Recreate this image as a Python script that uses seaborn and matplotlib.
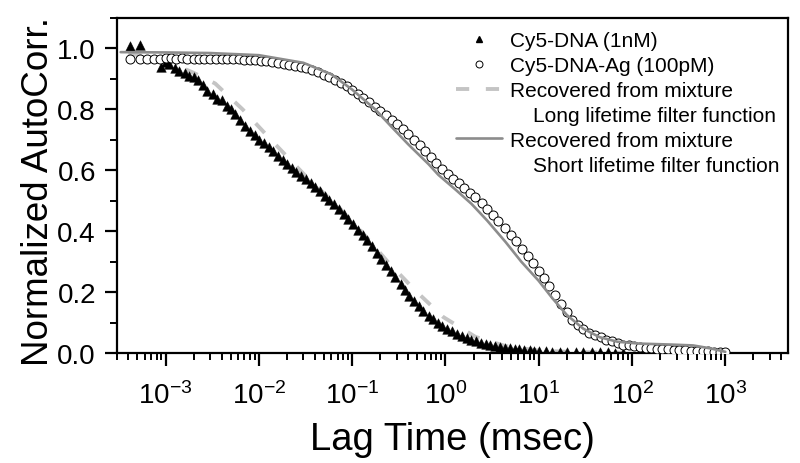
import seaborn as sns
import matplotlib.pyplot as plt
import matplotlib.ticker as mticker
from matplotlib.lines import Line2D
import numpy as np
import pandas as pd

# Cy5-DNA (1nM), triangles
dna_t = [4.2e-4, 5.3e-4, 8.9e-4, 1.0e-3, 1.1e-3, 1.25e-3, 1.4e-3, 1.6e-3, 1.8e-3, 2.0e-3,
         2.25e-3, 2.5e-3, 2.8e-3, 3.2e-3, 3.6e-3, 4.0e-3, 4.5e-3, 5.0e-3, 5.6e-3, 6.3e-3,
         7.1e-3, 8.0e-3, 9.0e-3, 1.0e-2, 1.13e-2, 1.27e-2, 1.43e-2, 1.6e-2, 1.8e-2, 2.0e-2,
         2.25e-2, 2.5e-2, 2.85e-2, 3.2e-2, 3.6e-2, 4.0e-2, 4.5e-2, 5.1e-2, 5.7e-2, 6.4e-2,
         7.2e-2, 8.1e-2, 9.1e-2, 0.102, 0.115, 0.13, 0.145, 0.163, 0.183, 0.205,
         0.23, 0.26, 0.29, 0.33, 0.37, 0.41, 0.46, 0.52, 0.58, 0.66,
         0.74, 0.83, 0.93, 1.05, 1.18, 1.33, 1.5, 1.7, 1.9, 2.15,
         2.4, 2.7, 3.0, 3.4, 3.8, 4.3, 4.9, 5.5, 6.2, 7.0,
         8.0, 9.0, 10, 12, 14, 17, 20, 25, 30, 37, 45, 55, 65, 80]
dna_g = [1.007, 1.013, 0.94, 0.955, 0.95, 0.935, 0.925, 0.92, 0.91, 0.905,
         0.895, 0.88, 0.86, 0.85, 0.835, 0.83, 0.81, 0.80, 0.785, 0.765,
         0.745, 0.73, 0.715, 0.70, 0.688, 0.675, 0.662, 0.648, 0.634, 0.62,
         0.607, 0.595, 0.582, 0.57, 0.557, 0.545, 0.531, 0.517, 0.503, 0.488,
         0.473, 0.457, 0.441, 0.424, 0.405, 0.387, 0.37, 0.35, 0.33, 0.31,
         0.29, 0.27, 0.25, 0.228, 0.207, 0.187, 0.17, 0.153, 0.138, 0.123,
         0.112, 0.10, 0.09, 0.08, 0.071, 0.063, 0.056, 0.05, 0.044, 0.039,
         0.034, 0.030, 0.027, 0.024, 0.021, 0.018, 0.016, 0.014, 0.012, 0.010,
         0.009, 0.008, 0.007, 0.006, 0.005, 0.004, 0.004, 0.003, 0.003, 0.002, 0.002, 0.002, 0.001, 0.001]

# Cy5-DNA-Ag (100pM), open circles
ag_t = [4.2e-4, 5.3e-4, 6.4e-4, 7.5e-4, 8.7e-4, 1.0e-3, 1.15e-3, 1.3e-3, 1.5e-3, 1.7e-3,
        2.0e-3, 2.3e-3, 2.6e-3, 3.0e-3, 3.5e-3, 4.0e-3, 4.6e-3, 5.3e-3, 6.1e-3, 7.0e-3,
        8.0e-3, 9.2e-3, 1.05e-2, 1.2e-2, 1.4e-2, 1.6e-2, 1.85e-2, 2.1e-2, 2.45e-2, 2.8e-2,
        3.2e-2, 3.7e-2, 4.3e-2, 5.0e-2, 5.7e-2, 6.6e-2, 7.6e-2, 8.7e-2, 0.10, 0.115,
        0.13, 0.15, 0.175, 0.20, 0.23, 0.265, 0.30, 0.35, 0.40, 0.46,
        0.53, 0.61, 0.70, 0.80, 0.92, 1.06, 1.22, 1.40, 1.6, 1.85,
        2.1, 2.45, 2.8, 3.2, 3.7, 4.3, 5.0, 5.7, 6.6, 7.6,
        8.7, 10, 11.5, 13, 15, 17.5, 20, 23, 26.5, 30,
        35, 40, 46, 53, 61, 70, 80, 92, 106, 122,
        140, 160, 185, 210, 245, 280, 320, 370, 430, 500,
        570, 660, 760, 870, 1000]
ag_g = [0.967, 0.967, 0.967, 0.967, 0.967, 0.968, 0.968, 0.967, 0.968, 0.967,
        0.967, 0.967, 0.966, 0.967, 0.966, 0.966, 0.965, 0.965, 0.964, 0.963,
        0.962, 0.961, 0.960, 0.958, 0.956, 0.953, 0.950, 0.947, 0.944, 0.940,
        0.935, 0.929, 0.922, 0.914, 0.906, 0.897, 0.887, 0.876, 0.864, 0.851,
        0.838, 0.824, 0.809, 0.795, 0.781, 0.766, 0.752, 0.735, 0.718, 0.700,
        0.682, 0.663, 0.644, 0.624, 0.605, 0.588, 0.572, 0.557, 0.543, 0.527,
        0.511, 0.492, 0.472, 0.452, 0.432, 0.410, 0.388, 0.367, 0.343, 0.319,
        0.295, 0.270, 0.245, 0.220, 0.190, 0.160, 0.135, 0.110, 0.092, 0.078,
        0.066, 0.058, 0.051, 0.044, 0.038, 0.033, 0.028, 0.025, 0.022, 0.019,
        0.017, 0.015, 0.014, 0.013, 0.012, 0.011, 0.010, 0.009, 0.008, 0.007,
        0.006, 0.006, 0.005, 0.005, 0.004]

# recovered from mixture, long lifetime filter (dashed)
long_t = [4.0e-4, 1e-3, 2e-3, 3.4e-3, 6.7e-3, 0.0135, 0.032, 0.066, 0.125, 0.24,
          0.48, 0.95, 2.1, 4.4, 10, 25, 86]
long_g = [0.985, 0.96, 0.92, 0.885, 0.80, 0.70, 0.58, 0.49, 0.40, 0.30,
          0.204, 0.118, 0.053, 0.023, 0.008, 0.003, 0.001]

# recovered from mixture, short lifetime filter (solid gray)
short_t = [3.3e-4, 1e-3, 3e-3, 0.01, 0.03, 0.06, 0.1, 0.177, 0.26, 0.4,
           0.66, 0.84, 1.3, 1.9, 2.8, 4.4, 6.5, 10, 14, 20,
           30, 45, 70, 120, 250, 450, 700, 1000]
short_g = [0.988, 0.987, 0.985, 0.978, 0.953, 0.915, 0.865, 0.80, 0.745, 0.685,
           0.62, 0.585, 0.535, 0.49, 0.435, 0.365, 0.30, 0.237, 0.18, 0.125,
           0.08, 0.052, 0.037, 0.031, 0.028, 0.025, 0.015, 0.004]

xticks = [1e-3, 1e-2, 1e-1, 1e0, 1e1, 1e2, 1e3]

sns.set_style("ticks")
plt.rcParams['font.family'] = ['Liberation Sans', 'DejaVu Sans']
plt.rcParams['mathtext.fontset'] = 'custom'
plt.rcParams['mathtext.rm'] = 'Liberation Sans'
plt.rcParams['mathtext.it'] = 'Liberation Sans'
plt.rcParams['axes.unicode_minus'] = False
plt.rcParams['lines.scale_dashes'] = False
plt.rcParams['text.color'] = 'black'
plt.rcParams['axes.labelcolor'] = 'black'

fig = plt.figure(figsize=(8, 4.64), dpi=100)
ax = fig.add_axes([0.146, 0.237, 0.839, 0.722])

sns.lineplot(x=long_t, y=long_g, ax=ax, color="#c4c4c4", lw=2.8, sort=False,
             estimator=None, zorder=2)
ax.lines[-1].set_linestyle((0, (9.5, 12)))
sns.scatterplot(x=dna_t, y=dna_g, ax=ax, marker="^", color="black", s=48,
                edgecolor="black", linewidth=0.3, zorder=3)
sns.scatterplot(x=ag_t, y=ag_g, ax=ax, marker="o", facecolor="white", s=42,
                edgecolor="black", linewidth=0.7, zorder=4)
sns.lineplot(x=short_t, y=short_g, ax=ax, color="#8c8c8c", lw=1.9, sort=False,
             estimator=None, zorder=5)

ax.set_xscale("log")
ax.set_xlim(3.0e-4, 4700)
ax.set_ylim(0, 1.1)
ax.xaxis.set_major_locator(mticker.FixedLocator(xticks))
ax.xaxis.set_major_formatter(mticker.LogFormatterSciNotation())
ax.xaxis.set_minor_locator(mticker.LogLocator(base=10, subs=np.arange(2, 10), numticks=100))
ax.xaxis.set_minor_formatter(mticker.NullFormatter())
ax.yaxis.set_major_locator(mticker.MultipleLocator(0.2))
ax.yaxis.set_minor_locator(mticker.MultipleLocator(0.1))
ax.yaxis.set_major_formatter(mticker.FormatStrFormatter("%.1f"))

for s in ax.spines.values():
    s.set_linewidth(1.6)
    s.set_color("black")
ax.tick_params(axis="both", which="major", direction="out", length=9, width=1.6,
               labelsize=20, colors="black")
ax.tick_params(axis="both", which="minor", direction="out", length=5, width=1.4,
               colors="black")
ax.tick_params(axis="x", which="major", pad=11)
ax.tick_params(axis="y", which="major", pad=6)

ax.set_xlabel("Lag Time (msec)", fontsize=27.5, labelpad=9)
ax.set_ylabel("Normalized AutoCorr.", fontsize=26.5)
ax.yaxis.set_label_coords(-0.09, 0.484)

blank = Line2D([], [], linestyle="none")
handles = [
    Line2D([], [], linestyle="none", marker="^", color="black", markersize=5),
    Line2D([], [], linestyle="none", marker="o", markerfacecolor="white",
           markeredgecolor="black", markersize=5, markeredgewidth=0.7),
    Line2D([], [], color="#c4c4c4", lw=2.8, linestyle=(0, (9.5, 12))),
    blank,
    Line2D([], [], color="#8c8c8c", lw=1.9),
    blank,
]
labels = ["Cy5-DNA (1nM)", "Cy5-DNA-Ag (100pM)", "Recovered from mixture",
          "    Long lifetime filter function", "Recovered from mixture",
          "    Short lifetime filter function"]
ax.legend(handles, labels, loc="upper right", bbox_to_anchor=(1.0, 0.985),
          frameon=False, fontsize=15, handlelength=2.2, handletextpad=0.4,
          labelspacing=0.28, borderaxespad=0.0)

fig.savefig("out.png", dpi=100)
